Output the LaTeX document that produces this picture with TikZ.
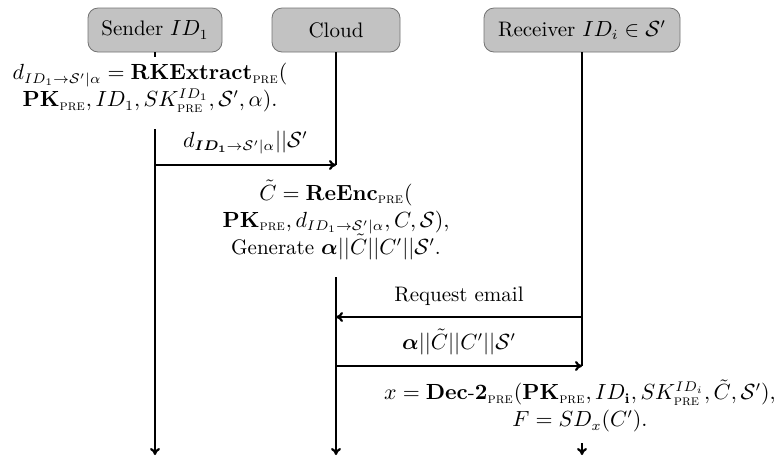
\documentclass[tikz,border=0pt]{standalone}
\usepackage{amsmath,amssymb,bm}
\usetikzlibrary{arrows.meta}
\begin{document}
\begin{tikzpicture}[x=0.5pt,y=-0.5pt,
  actor/.style={draw=black!55,fill=black!24,rounded corners=5pt,minimum height=22pt,inner sep=2pt,font=\fontsize{10.5}{12.6}\selectfont},
  life/.style={line width=1.1pt},
  msg/.style={line width=1.1pt,-{To[length=3.5pt,width=5pt]}},
  txt/.style={align=center,inner sep=0pt,font=\fontsize{10.5}{13.5}\selectfont},
  lbl/.style={inner sep=0pt,font=\fontsize{10.5}{12.6}\selectfont}]
\useasboundingbox (0,0) rectangle (784,457);
% actors
\node[actor,minimum width=67pt] (sender) at (155,30) {Sender $ID_1$};
\node[actor,minimum width=64pt] (cloud) at (336,30) {Cloud};
\node[actor,minimum width=98pt] (receiver) at (582,30) {Receiver $ID_i\in\mathcal{S}'$};
% coordinates
\coordinate (s0) at (155,57);
\coordinate (s1) at (155,129);
\coordinate (s2) at (155,165);
\coordinate (sEnd) at (155,455);
\coordinate (c1) at (336,165);
\coordinate (c2) at (336,277);
\coordinate (c3) at (336,317);
\coordinate (c4) at (336,366);
\coordinate (cEnd) at (336,455);
\coordinate (r1) at (582,317);
\coordinate (r2) at (582,366);
\coordinate (r3) at (582,443);
\coordinate (rEnd) at (582,455);
% texts
\node[txt] (st) at (150,88) {$d_{ID_1\to\mathcal{S}'|\alpha}=\mathbf{RKExtract}_{\textsc{pre}}($\\
$\mathbf{PK}_{\textsc{pre}},ID_1,SK^{ID_1}_{\textsc{pre}},\mathcal{S}',\alpha).$};
\node[txt] (ct) at (336,220) {$\tilde{C}=\mathbf{ReEnc}_{\textsc{pre}}($\\
$\mathbf{PK}_{\textsc{pre}},d_{ID_1\to\mathcal{S}'|\alpha},C,\mathcal{S}),$\\
Generate $\bm{\alpha}||\tilde{C}||C'||\mathcal{S}'$.};
\node[txt] (rt) at (580,406) {$x=\mathbf{Dec\text{-}2}_{\textsc{pre}}(\mathbf{PK}_{\textsc{pre}},ID_{\mathbf{i}},SK^{ID_i}_{\textsc{pre}},\tilde{C},\mathcal{S}'),$\\
$F=SD_x(C').$};
% lifelines
\draw[life] (sender.south) -- (s0);
\draw[msg] (s1) -- (sEnd);
\draw[life] (cloud.south) -- (c1);
\draw[msg] (c2) -- (cEnd);
\draw[life] (receiver.south) -- (r2);
\draw[msg] (r3) -- (rEnd);
% messages
\draw[msg] (s2) -- node[lbl,above=5pt] {$d_{\bm{ID_1}\to\mathcal{S}'|\alpha}||\mathcal{S}'$} (c1);
\draw[msg] (r1) -- node[lbl,above=5pt] {Request email} (c3);
\draw[msg] (c4) -- node[lbl,above=5pt] {$\bm{\alpha}||\tilde{C}||C'||\mathcal{S}'$} (r2);
\end{tikzpicture}
\end{document}
